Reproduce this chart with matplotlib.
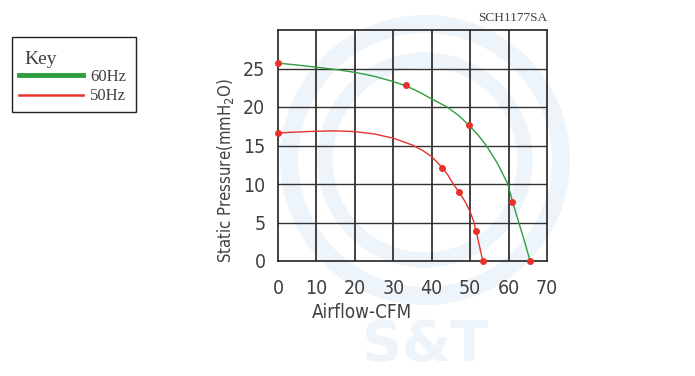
import matplotlib
matplotlib.use("Agg")
import matplotlib.pyplot as plt
from matplotlib.patches import Circle, Rectangle
from matplotlib.lines import Line2D
from matplotlib import font_manager

# Data
x_ticks = [0, 10, 20, 30, 40, 50, 60, 70]
y_ticks = [0, 5, 10, 15, 20, 25]

hz60_curve_x = [0, 5, 10, 16, 20, 25, 30, 33.3, 36.5, 40, 44, 47, 49.75, 52, 54.2, 57.2, 59.8, 61.1, 62.9, 64.3, 65.6]
hz60_curve_y = [25.7, 25.45, 25.17, 24.8, 24.5, 24.0, 23.3, 22.75, 22.0, 21.05, 20.0, 18.9, 17.6, 16.4, 15.0, 12.6, 10.0, 7.6, 4.6, 2.3, 0]
hz60_mark_x = [0, 33.3, 49.75, 61.0, 65.6]
hz60_mark_y = [25.75, 22.8, 17.6, 7.6, 0]

hz50_curve_x = [0, 5, 10, 15, 20, 25, 30, 35, 37.5, 40, 42.8, 44.3, 45.6, 47.2, 48.7, 50, 51.0, 51.5, 52.4, 53.3]
hz50_curve_y = [16.63, 16.75, 16.85, 16.9, 16.8, 16.5, 15.95, 15.05, 14.4, 13.55, 12.1, 11.1, 10.0, 8.9, 7.7, 6.4, 5.0, 3.96, 2.0, 0]
hz50_mark_x = [0, 42.8, 47.2, 51.5, 53.3]
hz50_mark_y = [16.63, 12.1, 8.9, 3.96, 0]

GREEN = "#2e9e40"
RED = "#e8322b"
GRID = "#333333"
TXT = "#404040"
WM = "#edf4fa"

fig = plt.figure(figsize=(6.95, 3.76), dpi=100)
W, H = 695, 376

def fx(px):
    return px / W

def fy(py):
    return 1 - py / H

# Watermark (faint logo rings)
wm = fig.add_axes([0, 0, 1, 1], zorder=0)
wm.set_xlim(0, W)
wm.set_ylim(H, 0)
wm.set_aspect("equal")
wm.axis("off")
for r, lw in [(136, 13), (100, 11)]:
    wm.add_patch(Circle((425, 160), r, fill=False, ec=WM, lw=lw))
wm.text(425, 345, "S&T", color=WM, fontsize=40, fontweight="bold", ha="center", va="center", family="DejaVu Sans")

ax = fig.add_axes([fx(278), fy(261), fx(547) - fx(278), fy(30) - fy(261)], zorder=1)
ax.patch.set_alpha(0)
ax.set_xlim(0, 70)
ax.set_ylim(0, 30)
ax.set_xticks(x_ticks)
ax.set_yticks(y_ticks)
for v in x_ticks[1:-1]:
    ax.axvline(v, color=GRID, lw=1.3, zorder=1)
for v in y_ticks[1:]:
    ax.axhline(v, color=GRID, lw=1.0, zorder=1)
for s in ax.spines.values():
    s.set_color("#222222")
    s.set_linewidth(1.2)

tick_fp = font_manager.FontProperties(family="DejaVu Sans", stretch="condensed", weight="light", size=14)
ax.tick_params(length=0, colors=TXT)
ax.tick_params(axis="x", pad=13)
ax.tick_params(axis="y", pad=9)
for lab in ax.get_xticklabels() + ax.get_yticklabels():
    lab.set_fontproperties(tick_fp)

ax.plot(hz60_curve_x, hz60_curve_y, color=GREEN, lw=1.0, zorder=3, clip_on=False)
ax.plot(hz50_curve_x, hz50_curve_y, color=RED, lw=1.0, zorder=3, clip_on=False)
ax.plot(hz60_mark_x, hz60_mark_y, "o", color=RED, ms=4, zorder=4, clip_on=False)
ax.plot(hz50_mark_x, hz50_mark_y, "o", color=RED, ms=4, zorder=4, clip_on=False)

xlab_fp = font_manager.FontProperties(family="DejaVu Sans", stretch="condensed", weight="light", size=13.5)
ylab_fp = font_manager.FontProperties(family="DejaVu Sans", stretch="condensed", weight="light", size=12)
fig.text(fx(312), fy(312), "Airflow-CFM", color=TXT, fontproperties=xlab_fp, ha="left", va="center")
fig.text(fx(226), fy(171), "Static Pressure(mmH$_2$O)", color=TXT, fontproperties=ylab_fp,
         rotation=90, ha="center", va="center")
fig.text(fx(547), fy(18), "SCH1177SA", fontsize=9.5, color=TXT, family="Liberation Serif", ha="right", va="center")

# Key box
lg = fig.add_axes([0, 0, 1, 1], zorder=2)
lg.set_xlim(0, W)
lg.set_ylim(H, 0)
lg.axis("off")
lg.patch.set_alpha(0)
lg.add_patch(Rectangle((12, 37), 124, 75, fill=False, ec="#222222", lw=1.0))
lg.text(24, 60, "Key", fontsize=14, family="Liberation Serif", color=TXT, va="center", ha="left")
lg.add_line(Line2D([19, 83], [75, 75], color=GREEN, lw=3.5))
lg.add_line(Line2D([19, 83], [95, 95], color=RED, lw=1.8))
lg.text(90, 77, "60Hz", fontsize=12, family="Liberation Serif", color=TXT, va="center", ha="left")
lg.text(90, 96, "50Hz", fontsize=12, family="Liberation Serif", color=TXT, va="center", ha="left")

fig.savefig("out.png", dpi=100)
